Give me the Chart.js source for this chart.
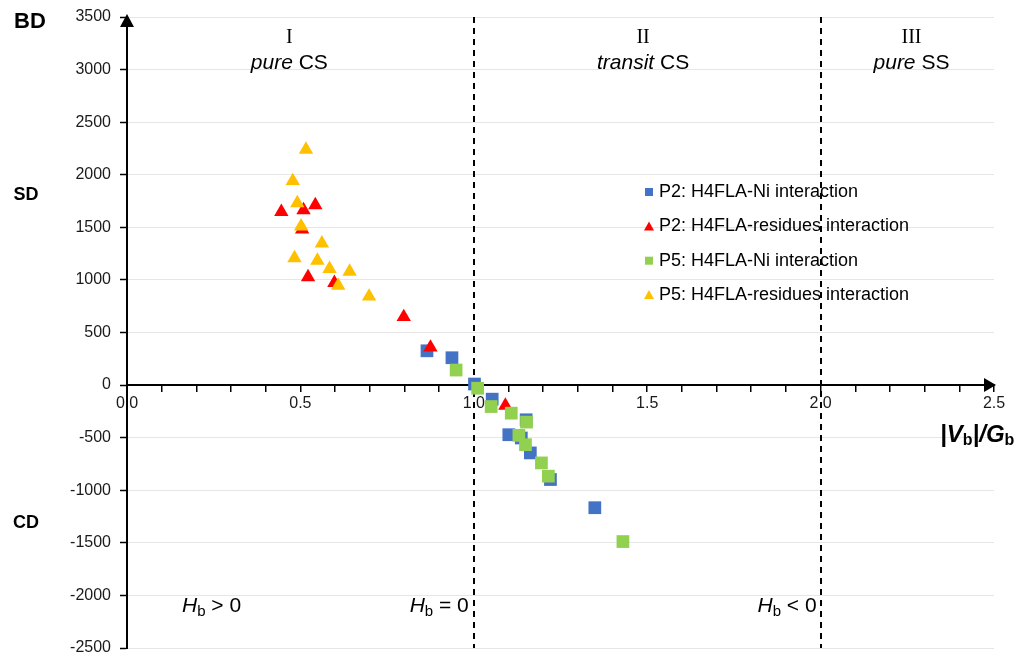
<!DOCTYPE html>
<html><head><meta charset="utf-8">
<script src="https://cdn.jsdelivr.net/npm/chart.js@4/dist/chart.umd.min.js"></script>
<style>html,body{margin:0;padding:0;background:#fff;overflow:hidden}#wrap{width:1023px;height:657px}</style>
</head><body><div id="wrap"><canvas id="c" width="1023" height="657"></canvas></div>
<script>
// ---- data ----
const seriesLabels = ['P2: H4FLA-Ni interaction','P2: H4FLA-residues interaction','P5: H4FLA-Ni interaction','P5: H4FLA-residues interaction'];
const p2NiX  = [0.865, 0.937, 1.002, 1.053, 1.151, 1.101, 1.137, 1.163, 1.221, 1.349];
const p2NiY  = [326, 260, 10, -134, -330, -472, -503, -645, -898, -1166];
const p2ResX = [0.445, 0.509, 0.543, 0.505, 0.522, 0.598, 0.798, 0.875, 1.091];
const p2ResY = [1648, 1664, 1711, 1480, 1027, 973, 648, 358, -195];
const p5NiX  = [0.949, 1.011, 1.050, 1.108, 1.152, 1.130, 1.149, 1.195, 1.215, 1.430];
const p5NiY  = [143, -30, -204, -267, -352, -478, -567, -740, -866, -1488];
const p5ResX = [0.516, 0.478, 0.491, 0.502, 0.562, 0.483, 0.549, 0.584, 0.642, 0.609, 0.698];
const p5ResY = [2240, 1941, 1730, 1509, 1348, 1207, 1184, 1105, 1080, 947, 843];
const xMajorLabels = ['0.0','0.5','1.0','1.5','2.0','2.5'];
const boundaryX = [1.0, 2.0];

const toPts = (xs, ys) => xs.map((x, i) => ({x: x, y: ys[i]}));
const SANS = '"Liberation Sans", Arial, sans-serif';
const SERIF = '"Liberation Serif", "Times New Roman", serif';

function drawSegments(ctx, segs, x, y, align) {
  let w = 0;
  segs.forEach(s => { ctx.font = s.font; w += ctx.measureText(s.t).width; });
  let cx = align === 'center' ? x - w / 2 : (align === 'right' ? x - w : x);
  ctx.textAlign = 'left';
  ctx.textBaseline = 'middle';
  segs.forEach(s => {
    ctx.font = s.font;
    ctx.fillText(s.t, cx, y + (s.dy || 0));
    cx += ctx.measureText(s.t).width;
  });
}

const decor = {
  id: 'decor',
  beforeDatasetsDraw(chart) {
    const {ctx, chartArea, scales} = chart;
    ctx.save();
    ctx.strokeStyle = '#000';
    ctx.lineWidth = 2;
    ctx.setLineDash([6, 5]);
    boundaryX.forEach(v => {
      const px = Math.round(scales.x.getPixelForValue(v));
      ctx.beginPath();
      ctx.moveTo(px, chartArea.top);
      ctx.lineTo(px, chartArea.bottom);
      ctx.stroke();
    });
    ctx.restore();
  },
  afterDraw(chart) {
    const {ctx, chartArea, scales} = chart;
    const xs = scales.x, ys = scales.y;
    ctx.save();
    ctx.fillStyle = '#000';
    const ax = xs.getPixelForValue(0), ay0 = ys.getPixelForValue(0);
    ctx.beginPath();
    ctx.moveTo(ax, chartArea.top - 3);
    ctx.lineTo(ax - 7, chartArea.top + 10);
    ctx.lineTo(ax + 7, chartArea.top + 10);
    ctx.closePath(); ctx.fill();
    const rx = xs.getPixelForValue(2.5);
    ctx.beginPath();
    ctx.moveTo(rx + 2, ay0);
    ctx.lineTo(rx - 10, ay0 - 7);
    ctx.lineTo(rx - 10, ay0 + 7);
    ctx.closePath(); ctx.fill();

    ctx.fillStyle = '#000';
    drawSegments(ctx, [{t: 'BD', font: 'bold 22px ' + SANS}], 30, 22, 'center');
    drawSegments(ctx, [{t: 'SD', font: 'bold 18px ' + SANS}], 26, 195, 'center');
    drawSegments(ctx, [{t: 'CD', font: 'bold 18px ' + SANS}], 26, 523, 'center');

    const r1 = xs.getPixelForValue(0.468), r2 = xs.getPixelForValue(1.488), r3 = xs.getPixelForValue(2.262);
    const yr = 38, yt = 63;
    drawSegments(ctx, [{t: 'I', font: '20px ' + SERIF}], r1, yr, 'center');
    drawSegments(ctx, [{t: 'pure', font: 'italic 21px ' + SANS}, {t: ' CS', font: '21px ' + SANS}], r1, yt, 'center');
    drawSegments(ctx, [{t: 'II', font: '20px ' + SERIF}], r2, yr, 'center');
    drawSegments(ctx, [{t: 'transit', font: 'italic 21px ' + SANS}, {t: ' CS', font: '21px ' + SANS}], r2, yt, 'center');
    drawSegments(ctx, [{t: 'III', font: '20px ' + SERIF}], r3, yr, 'center');
    drawSegments(ctx, [{t: 'pure', font: 'italic 21px ' + SANS}, {t: ' SS', font: '21px ' + SANS}], r3, yt, 'center');

    const hy = 606;
    const hb = (rel) => [{t: 'H', font: 'italic 21px ' + SANS}, {t: 'b', font: '15px ' + SANS, dy: 6}, {t: ' ' + rel + ' 0', font: '21px ' + SANS}];
    drawSegments(ctx, hb('>'), 182, hy, 'left');
    drawSegments(ctx, hb('='), xs.getPixelForValue(1.0) - 5, hy, 'right');
    drawSegments(ctx, hb('<'), xs.getPixelForValue(2.0) - 4, hy, 'right');

    drawSegments(ctx, [
      {t: '|V', font: 'bold italic 24px ' + SANS},
      {t: 'b', font: 'bold 16px ' + SANS, dy: 6},
      {t: '|/G', font: 'bold italic 24px ' + SANS},
      {t: 'b', font: 'bold 16px ' + SANS, dy: 6}
    ], 940, 435, 'left');

    const lx = 649, ly = [192, 226.5, 260.7, 295];
    chart.data.datasets.forEach((ds, i) => {
      const y = ly[i];
      ctx.fillStyle = ds.backgroundColor;
      if (ds.pointStyle === 'rect') {
        ctx.fillRect(lx - 4, y - 4, 8, 8);
      } else {
        ctx.beginPath();
        ctx.moveTo(lx, y - 5);
        ctx.lineTo(lx + 5, y + 4);
        ctx.lineTo(lx - 5, y + 4);
        ctx.closePath(); ctx.fill();
      }
      ctx.fillStyle = '#000';
      drawSegments(ctx, [{t: ds.label, font: '18px ' + SANS}], 659, y, 'left');
    });
    ctx.restore();
  }
};

new Chart(document.getElementById('c'), {
  type: 'scatter',
  data: {
    datasets: [
      {label: seriesLabels[0], data: toPts(p2NiX, p2NiY), pointStyle: 'rect', pointRadius: 9, backgroundColor: '#4472C4', borderColor: '#4472C4', borderWidth: 0, order: 3},
      {label: seriesLabels[1], data: toPts(p2ResX, p2ResY), pointStyle: 'triangle', pointRadius: 8.3, backgroundColor: '#FF0000', borderColor: '#FF0000', borderWidth: 0, order: 2},
      {label: seriesLabels[2], data: toPts(p5NiX, p5NiY), pointStyle: 'rect', pointRadius: 9, backgroundColor: '#92D050', borderColor: '#92D050', borderWidth: 0, order: 1},
      {label: seriesLabels[3], data: toPts(p5ResX, p5ResY), pointStyle: 'triangle', pointRadius: 8.3, backgroundColor: '#FFC000', borderColor: '#FFC000', borderWidth: 0, order: 0}
    ]
  },
  options: {
    responsive: false,
    animation: false,
    layout: {padding: {top: 17, right: 29, bottom: 7, left: 0}},
    plugins: {legend: {display: false}, tooltip: {enabled: false}},
    scales: {
      x: {
        type: 'linear', position: {y: 0}, min: 0, max: 2.5,
        ticks: {
          stepSize: 0.1, autoSkip: false, maxRotation: 0, minRotation: 0, padding: 3,
          font: {family: SANS, size: 16}, color: '#1a1a1a',
          callback: (v) => { const k = Math.round(v * 10); return k % 5 === 0 ? xMajorLabels[k / 5] : ''; }
        },
        grid: {drawOnChartArea: false, drawTicks: true, tickLength: 6, color: '#000', lineWidth: 1.5},
        border: {display: true, color: '#000', width: 2},
        afterFit: (s) => { s.paddingLeft = 0; s.paddingRight = 0; }
      },
      y: {
        type: 'linear', position: 'left', min: -2500, max: 3500,
        ticks: {stepSize: 500, padding: 9, font: {family: SANS, size: 16}, color: '#1a1a1a', callback: (v) => String(v)},
        grid: {color: '#e6e6e6', lineWidth: 1, tickColor: '#000', tickLength: 7, tickWidth: 1.5},
        border: {display: true, color: '#000', width: 2},
        afterFit: (s) => { s.width = 127; s.paddingTop = 0; s.paddingBottom = 0; }
      }
    }
  },
  plugins: [decor]
});
</script>
</body></html>
